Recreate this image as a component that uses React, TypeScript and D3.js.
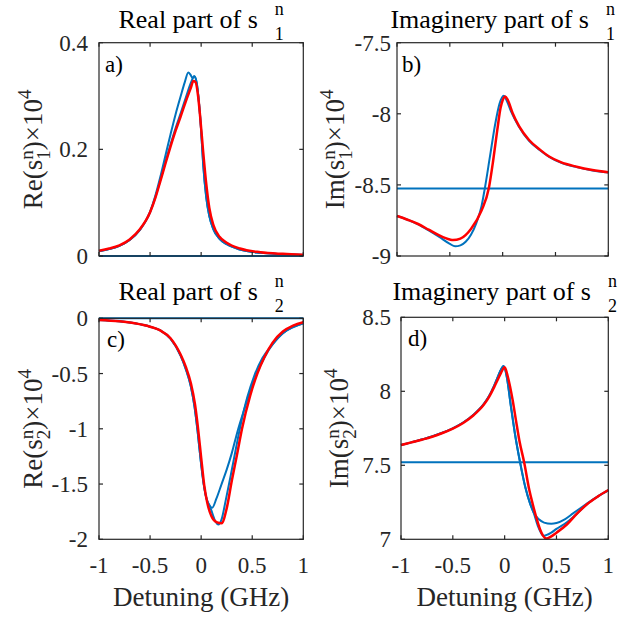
import React from 'react';
import * as d3 from 'd3';

const BLUE = '#0072BD';
const RED = '#FF0000';
const AXC = '#262626';
const FONT = "'Liberation Serif', 'Times New Roman', serif";

const xTicks = [-1, -0.5, 0, 0.5, 1];
const xTickLabels = ['-1', '-0.5', '0', '0.5', '1'];

// ---- Panel a : Re(s1) ----
const aYTicks = [0, 0.2, 0.4];
const aYTickLabels = ['0', '0.2', '0.4'];
const aFlat = 0;
const aRedX = [-1, -0.9, -0.8, -0.7, -0.6, -0.5, -0.45, -0.4, -0.35, -0.3, -0.25, -0.2, -0.15, -0.1, -0.077, -0.055, -0.03, -0.01, 0.02, 0.05, 0.08, 0.12, 0.18, 0.25, 0.38, 0.58, 0.8, 1];
const aRedY = [0.010, 0.014, 0.020, 0.031, 0.050, 0.082, 0.108, 0.140, 0.173, 0.205, 0.235, 0.262, 0.290, 0.316, 0.328, 0.326, 0.300, 0.262, 0.195, 0.135, 0.090, 0.058, 0.036, 0.025, 0.014, 0.007, 0.004, 0.0025];
const aBlueAX = [-1, -0.9, -0.8, -0.7, -0.6, -0.5, -0.45, -0.4, -0.35, -0.3, -0.25, -0.2, -0.16, -0.126, -0.105, -0.085, -0.067, -0.045, -0.02, 0.0, 0.02, 0.05, 0.08, 0.12, 0.18, 0.25, 0.38, 0.58, 0.8, 1];
const aBlueAY = [0.009, 0.013, 0.019, 0.030, 0.049, 0.083, 0.112, 0.148, 0.188, 0.228, 0.266, 0.300, 0.326, 0.344, 0.340, 0.334, 0.337, 0.326, 0.285, 0.235, 0.172, 0.110, 0.075, 0.050, 0.032, 0.022, 0.012, 0.006, 0.0035, 0.002];
const aBlueBX = [-1, -0.9, -0.8, -0.7, -0.6, -0.5, -0.45, -0.4, -0.35, -0.3, -0.25, -0.2, -0.15, -0.1, -0.067, -0.045, -0.02, 0.0, 0.02, 0.05, 0.08, 0.12, 0.18, 0.25, 0.38, 0.58, 0.8, 1];
const aBlueBY = [0.009, 0.013, 0.019, 0.030, 0.049, 0.082, 0.109, 0.142, 0.176, 0.209, 0.240, 0.268, 0.297, 0.325, 0.337, 0.326, 0.285, 0.235, 0.172, 0.110, 0.075, 0.050, 0.032, 0.022, 0.012, 0.006, 0.0035, 0.002];

// ---- Panel b : Im(s1) ----
const bYTicks = [-9, -8.5, -8, -7.5];
const bYTickLabels = ['-9', '-8.5', '-8', '-7.5'];
const bFlat = -8.525;
const bRedX = [-1, -0.9, -0.8, -0.7, -0.6, -0.5, -0.47, -0.4, -0.3, -0.2, -0.13, -0.09, -0.05, -0.02, 0.0, 0.025, 0.05, 0.095, 0.158, 0.25, 0.35, 0.44, 0.55, 0.7, 0.85, 1];
const bRedY = [-8.719, -8.745, -8.775, -8.815, -8.855, -8.884, -8.888, -8.878, -8.81, -8.68, -8.52, -8.33, -8.11, -7.96, -7.905, -7.878, -7.905, -7.996, -8.09, -8.184, -8.25, -8.30, -8.34, -8.372, -8.395, -8.411];
const bBlueX = [-1, -0.9, -0.8, -0.7, -0.6, -0.5, -0.45, -0.4, -0.35, -0.3, -0.25, -0.2, -0.17, -0.12, -0.07, -0.03, 0.01, 0.04, 0.08, 0.15, 0.25, 0.35, 0.44, 0.55, 0.7, 0.85, 1];
const bBlueY = [-8.719, -8.745, -8.777, -8.82, -8.866, -8.915, -8.932, -8.925, -8.90, -8.85, -8.77, -8.65, -8.53, -8.30, -8.07, -7.93, -7.873, -7.91, -7.985, -8.085, -8.19, -8.255, -8.303, -8.343, -8.375, -8.398, -8.413];

// ---- Panel c : Re(s2) ----
const cYTicks = [-2, -1.5, -1, -0.5, 0];
const cYTickLabels = ['-2', '-1.5', '-1', '-0.5', '0'];
const cFlat = 0;
const cRedX = [-1, -0.8, -0.65, -0.5, -0.4, -0.3, -0.2, -0.15, -0.1, -0.06, -0.03, 0.0, 0.03, 0.06, 0.1, 0.15, 0.2, 0.25, 0.3, 0.35, 0.4, 0.48, 0.55, 0.62, 0.7, 0.8, 0.9, 1];
const cRedY = [-0.015, -0.027, -0.045, -0.076, -0.11, -0.18, -0.33, -0.44, -0.59, -0.78, -1.0, -1.26, -1.51, -1.67, -1.79, -1.845, -1.855, -1.72, -1.47, -1.24, -1.0, -0.70, -0.50, -0.35, -0.22, -0.12, -0.066, -0.036];
const cBlueAX = [-1, -0.8, -0.65, -0.5, -0.4, -0.3, -0.2, -0.15, -0.1, -0.065, -0.035, -0.005, 0.025, 0.055, 0.085, 0.108, 0.15, 0.2, 0.25, 0.3, 0.36, 0.42, 0.48, 0.55, 0.62, 0.7, 0.8, 0.9, 1];
const cBlueAY = [-0.015, -0.027, -0.045, -0.076, -0.11, -0.185, -0.34, -0.46, -0.62, -0.80, -1.02, -1.28, -1.50, -1.64, -1.70, -1.715, -1.63, -1.50, -1.37, -1.22, -1.01, -0.83, -0.66, -0.49, -0.355, -0.235, -0.135, -0.08, -0.045];
const cBlueBX = [-1, -0.8, -0.65, -0.5, -0.4, -0.3, -0.2, -0.15, -0.1, -0.065, -0.035, -0.005, 0.025, 0.055, 0.085, 0.108, 0.14, 0.168, 0.2, 0.24, 0.29, 0.34, 0.39, 0.45, 0.52, 0.6, 0.7, 0.8, 0.9, 1];
const cBlueBY = [-0.015, -0.027, -0.045, -0.076, -0.11, -0.185, -0.34, -0.46, -0.62, -0.80, -1.02, -1.28, -1.50, -1.64, -1.70, -1.76, -1.84, -1.866, -1.82, -1.65, -1.42, -1.18, -0.95, -0.72, -0.52, -0.36, -0.235, -0.135, -0.08, -0.045];

// ---- Panel d : Im(s2) ----
const dYTicks = [7, 7.5, 8, 8.5];
const dYTickLabels = ['7', '7.5', '8', '8.5'];
const dFlat = 7.52;
const dRedX = [-1, -0.9, -0.8, -0.7, -0.6, -0.5, -0.4, -0.3, -0.2, -0.15, -0.1, -0.067, -0.035, 0.0, 0.03, 0.077, 0.11, 0.141, 0.19, 0.238, 0.27, 0.303, 0.34, 0.37, 0.4, 0.45, 0.5, 0.6, 0.7, 0.8, 0.9, 1];
const dRedY = [7.637, 7.655, 7.673, 7.693, 7.718, 7.748, 7.786, 7.838, 7.910, 7.962, 8.03, 8.078, 8.125, 8.162, 8.10, 7.941, 7.80, 7.671, 7.514, 7.333, 7.24, 7.153, 7.07, 7.025, 7.005, 7.02, 7.045, 7.10, 7.175, 7.24, 7.29, 7.333];
const dBlueAX = [-1, -0.9, -0.8, -0.7, -0.6, -0.5, -0.4, -0.3, -0.2, -0.15, -0.1, -0.07, -0.04, -0.01, 0.02, 0.06, 0.1, 0.149, 0.2, 0.245, 0.28, 0.33, 0.38, 0.45, 0.5, 0.58, 0.66, 0.73, 0.8, 0.9, 1];
const dBlueAY = [7.637, 7.655, 7.674, 7.695, 7.72, 7.75, 7.789, 7.842, 7.915, 7.968, 8.04, 8.09, 8.14, 8.171, 8.10, 7.90, 7.71, 7.52, 7.35, 7.243, 7.18, 7.135, 7.113, 7.105, 7.11, 7.135, 7.175, 7.21, 7.245, 7.29, 7.33];
const dBlueBX = [-1, -0.9, -0.8, -0.7, -0.6, -0.5, -0.4, -0.3, -0.2, -0.15, -0.1, -0.07, -0.04, -0.01, 0.02, 0.06, 0.1, 0.149, 0.2, 0.245, 0.28, 0.32, 0.35, 0.373, 0.4, 0.45, 0.5, 0.6, 0.7, 0.8, 0.9, 1];
const dBlueBY = [7.637, 7.655, 7.674, 7.695, 7.72, 7.75, 7.789, 7.842, 7.915, 7.968, 8.04, 8.09, 8.14, 8.171, 8.10, 7.90, 7.71, 7.52, 7.35, 7.243, 7.18, 7.09, 7.045, 7.024, 7.028, 7.045, 7.07, 7.115, 7.175, 7.24, 7.29, 7.33];

type Curve = { x: number[]; y: number[] };
type PanelCfg = {
  left: number; right: number; top: number; bottom: number;
  yDomain: [number, number]; yTicks: number[]; yTickLabels: string[];
  flat: number; blues: Curve[]; red: Curve;
  title: string; idx: string; ylabPre: string; letter: string;
  titleY: number; ylabX: number; tickGap: number; letterX: number; letterY: number;
  showX: boolean;
};

const panels: PanelCfg[] = [
  {
    left: 99, right: 303.3, top: 42.7, bottom: 256, yDomain: [0, 0.4], yTicks: aYTicks, yTickLabels: aYTickLabels,
    flat: aFlat, blues: [{ x: aBlueBX, y: aBlueBY }, { x: aBlueAX, y: aBlueAY }], red: { x: aRedX, y: aRedY },
    title: 'Real part of s', idx: '1', ylabPre: 'Re', letter: 'a)', titleY: 28, ylabX: 42, tickGap: 11,
    letterX: 105, letterY: 72, showX: false,
  },
  {
    left: 397, right: 608.3, top: 42.7, bottom: 256, yDomain: [-9, -7.5], yTicks: bYTicks, yTickLabels: bYTickLabels,
    flat: bFlat, blues: [{ x: bBlueX, y: bBlueY }], red: { x: bRedX, y: bRedY },
    title: 'Imaginery part of s', idx: '1', ylabPre: 'Im', letter: 'b)', titleY: 28, ylabX: 344, tickGap: 6,
    letterX: 402, letterY: 72, showX: false,
  },
  {
    left: 99, right: 303.3, top: 318.3, bottom: 539.3, yDomain: [-2, 0], yTicks: cYTicks, yTickLabels: cYTickLabels,
    flat: cFlat, blues: [{ x: cBlueBX, y: cBlueBY }, { x: cBlueAX, y: cBlueAY }], red: { x: cRedX, y: cRedY },
    title: 'Real part of s', idx: '2', ylabPre: 'Re', letter: 'c)', titleY: 300, ylabX: 42, tickGap: 11,
    letterX: 107, letterY: 347, showX: true,
  },
  {
    left: 401, right: 608.3, top: 317.3, bottom: 539.3, yDomain: [7, 8.5], yTicks: dYTicks, yTickLabels: dYTickLabels,
    flat: dFlat, blues: [{ x: dBlueBX, y: dBlueBY }, { x: dBlueAX, y: dBlueAY }], red: { x: dRedX, y: dRedY },
    title: 'Imaginery part of s', idx: '2', ylabPre: 'Im', letter: 'd)', titleY: 300, ylabX: 348, tickGap: 10,
    letterX: 408, letterY: 346, showX: true,
  },
];

function Panel({ p }: { p: PanelCfg }) {
  const xs = d3.scaleLinear().domain([-1, 1]).range([p.left, p.right]);
  const ys = d3.scaleLinear().domain(p.yDomain).range([p.bottom, p.top]);
  const line = d3.line<[number, number]>().x(d => xs(d[0])).y(d => ys(d[1])).curve(d3.curveMonotoneX);
  const toPts = (c: Curve) => c.x.map((v, i) => [v, c.y[i]] as [number, number]);
  const cx = (p.left + p.right) / 2;
  const cy = (p.top + p.bottom) / 2;
  const tl = 4;
  return (
    <g>
      <path d={line([[-1, p.flat], [1, p.flat]]) || ''} fill="none" stroke={BLUE} strokeWidth={2} />
      {p.blues.map((c, i) => (
        <path key={i} d={line(toPts(c)) || ''} fill="none" stroke={BLUE} strokeWidth={2} strokeLinejoin="round" />
      ))}
      <path d={line(toPts(p.red)) || ''} fill="none" stroke={RED} strokeWidth={2.5} strokeLinejoin="round" />
      <rect x={p.left} y={p.top} width={p.right - p.left} height={p.bottom - p.top} fill="none" stroke={AXC} strokeWidth={1.2} />
      {xTicks.map((t, i) => (
        <g key={'xt' + i}>
          <line x1={xs(t)} x2={xs(t)} y1={p.bottom} y2={p.bottom - tl} stroke={AXC} strokeWidth={1.2} />
          <line x1={xs(t)} x2={xs(t)} y1={p.top} y2={p.top + tl} stroke={AXC} strokeWidth={1.2} />
          {p.showX && (
            <text x={xs(t)} y={573} textAnchor="middle" fontSize={23} fill={AXC} fontFamily={FONT}>{xTickLabels[i]}</text>
          )}
        </g>
      ))}
      {p.yTicks.map((t, i) => (
        <g key={'yt' + i}>
          <line x1={p.left} x2={p.left + tl} y1={ys(t)} y2={ys(t)} stroke={AXC} strokeWidth={1.2} />
          <line x1={p.right} x2={p.right - tl} y1={ys(t)} y2={ys(t)} stroke={AXC} strokeWidth={1.2} />
          <text x={p.left - p.tickGap} y={ys(t) + 8} textAnchor="end" fontSize={23} fill={AXC} fontFamily={FONT}>{p.yTickLabels[i]}</text>
        </g>
      ))}
      <text x={p.letterX} y={p.letterY} fontSize={23} fill="#000" fontFamily={FONT}>{p.letter}</text>
      <text x={cx} y={p.titleY} textAnchor="middle" fontSize={26} fill="#000" fontFamily={FONT}>
        {p.title}
        <tspan dx={17} dy={-13} fontSize={18}>n</tspan>
        <tspan dx={-9} dy={25} fontSize={18}>{p.idx}</tspan>
      </text>
      <text transform={`translate(${p.ylabX},${cy}) rotate(-90)`} textAnchor="middle" fontSize={27} fill={AXC} fontFamily={FONT}>
        {p.ylabPre + '(s'}
        <tspan dy={-9} fontSize={19}>n</tspan>
        <tspan dx={-9.5} dy={17} fontSize={19}>{p.idx}</tspan>
        <tspan dy={-8} fontSize={27}>)×10</tspan>
        <tspan dy={-11} fontSize={19}>4</tspan>
      </text>
      {p.showX && (
        <text x={cx} y={606} textAnchor="middle" fontSize={27} fill={AXC} fontFamily={FONT}>Detuning (GHz)</text>
      )}
    </g>
  );
}

export default function App() {
  return (
    <svg width={632} height={619} style={{ position: 'absolute', left: 0, top: 0, background: '#fff' }}>
      <rect x={0} y={0} width={632} height={619} fill="#fff" />
      {panels.map((p, i) => <Panel key={i} p={p} />)}
    </svg>
  );
}
